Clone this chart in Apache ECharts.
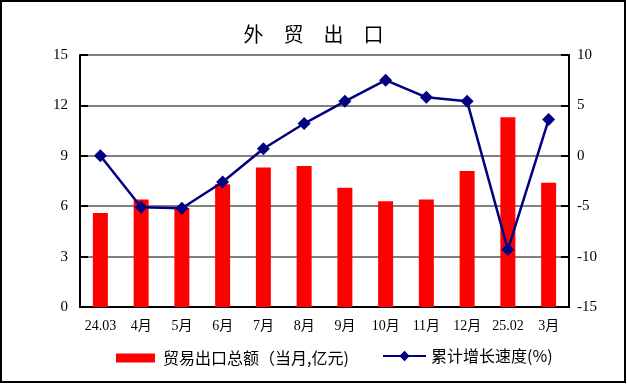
<!DOCTYPE html>
<html><head><meta charset="utf-8">
<script src="https://cdn.jsdelivr.net/npm/echarts@6/dist/echarts.min.js"></script>
<style>html,body{margin:0;padding:0;background:#fff}#c{width:627px;height:384px}</style>
</head><body><div id="c"></div>
<script>
const categories = ['24.03','4月','5月','6月','7月','8月','9月','10月','11月','12月','25.02','3月'];
const exportValues = [5.6, 6.4, 5.9, 7.3, 8.3, 8.4, 7.1, 6.3, 6.4, 8.1, 11.3, 7.4];
const growthValues = [0.0, -5.1, -5.2, -2.6, 0.7, 3.2, 5.4, 7.5, 5.8, 5.4, -9.3, 3.6];
const barName = '贸易出口总额（当月,亿元)';
const lineName = '累计增长速度(%)';
const numFont = "'Liberation Serif', 'Noto Sans CJK SC', serif";
const cjkFont = "'Noto Sans CJK SC'";
const chart = echarts.init(document.getElementById('c'));
chart.setOption({
  animation: false,
  backgroundColor: '#fff',
  title: {
    text: '外　贸　出　口', left: 'center', top: 19,
    textStyle: {fontSize: 20, fontWeight: 'normal', color: '#000', fontFamily: cjkFont}
  },
  graphic: [{type: 'rect', shape: {x: 1, y: 1, width: 624, height: 381}, style: {fill: null, stroke: '#000', lineWidth: 2}, silent: true}],
  grid: {left: 80, right: 58, top: 55, bottom: 77},
  legend: [{
    top: 350, left: 116, padding: 0, itemGap: 0, itemWidth: 39, itemHeight: 9,
    textStyle: {fontSize: 16, color: '#000', fontFamily: cjkFont, padding: [0, 0, 0, 3]},
    data: [{name: barName, icon: 'rect'}]
  }, {
    top: 348, left: 382, padding: 0, itemGap: 0, itemWidth: 43, itemHeight: 13,
    textStyle: {fontSize: 16, color: '#000', fontFamily: cjkFont},
    data: [{name: lineName}]
  }],
  xAxis: {
    type: 'category', data: categories,
    axisLine: {lineStyle: {color: '#000', width: 2}},
    axisTick: {inside: true, length: 6, lineStyle: {color: '#000', width: 2}},
    axisLabel: {interval: 0, margin: 12, fontSize: 14, color: '#000', fontFamily: numFont}
  },
  yAxis: [{
    type: 'value', min: 0, max: 15, interval: 3, position: 'left',
    axisLine: {show: true, lineStyle: {color: '#000', width: 2}},
    axisTick: {show: true, inside: true, length: 8, lineStyle: {color: '#000', width: 2}},
    splitLine: {show: true, lineStyle: {color: '#808080', width: 2}},
    axisLabel: {margin: 12, fontSize: 15, color: '#000', fontFamily: numFont}
  }, {
    type: 'value', min: -15, max: 10, interval: 5, position: 'right',
    axisLine: {show: true, lineStyle: {color: '#000', width: 2}},
    axisTick: {show: true, inside: true, length: 8, lineStyle: {color: '#000', width: 2}},
    splitLine: {show: false},
    axisLabel: {margin: 8, fontSize: 15, color: '#000', fontFamily: numFont}
  }],
  series: [{
    name: barName, type: 'bar', data: exportValues, barWidth: 15, yAxisIndex: 0,
    itemStyle: {color: '#ff0000'}
  }, {
    name: lineName, type: 'line', data: growthValues, yAxisIndex: 1,
    symbol: 'diamond', symbolSize: [13, 13],
    lineStyle: {color: '#000080', width: 2.5}, itemStyle: {color: '#000080'}, z: 5
  }]
});
</script></body></html>
